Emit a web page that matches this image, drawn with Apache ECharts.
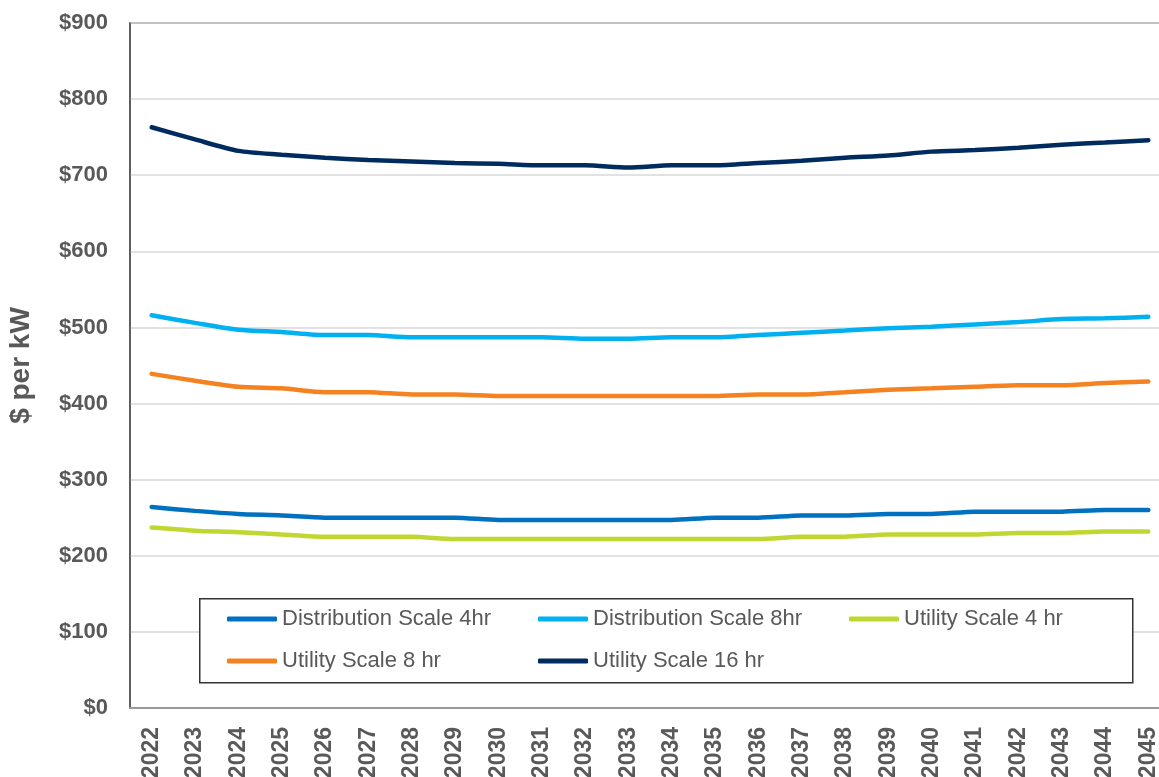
<!DOCTYPE html>
<html>
<head>
<meta charset="utf-8">
<script src="https://cdn.jsdelivr.net/npm/echarts@6/dist/echarts.min.js"></script>
<style>
    html, body { margin: 0; padding: 0; background: #fff; }
    #chart { width: 1159px; height: 777px; }
</style>
</head>
<body>
<div id="chart"></div>
<script>
    // years on the x axis
    var years = ['2022', '2023', '2024', '2025', '2026', '2027', '2028', '2029', '2030', '2031', '2032', '2033',
        '2034', '2035', '2036', '2037', '2038', '2039', '2040', '2041', '2042', '2043', '2044', '2045'];

    // $ per kW
    var dist4hr = [264, 259, 255, 253, 250, 250, 250, 250, 247, 247, 247, 247,
        247, 250, 250, 253, 253, 255, 255, 258, 258, 258, 260, 260];
    var dist8hr = [516, 506, 497, 494, 490, 490, 487, 487, 487, 487, 485, 485,
        487, 487, 490, 493, 496, 499, 501, 504, 507, 511, 512, 514];
    var util4hr = [237, 233, 231, 228, 225, 225, 225, 222, 222, 222, 222, 222,
        222, 222, 222, 225, 225, 228, 228, 228, 230, 230, 232, 232];
    var util8hr = [439, 430, 422, 420, 415, 415, 412, 412, 410, 410, 410, 410,
        410, 410, 412, 412, 415, 418, 420, 422, 424, 424, 427, 429];
    var util16hr = [763, 747, 732, 727, 723, 720, 718, 716, 715, 713, 713, 710,
        713, 713, 716, 719, 723, 726, 731, 733, 736, 740, 743, 746];

    var yTicks = [0, 100, 200, 300, 400, 500, 600, 700, 800, 900];

    var seriesNames = ['Distribution Scale 4hr', 'Distribution Scale 8hr', 'Utility Scale 4 hr',
        'Utility Scale 8 hr', 'Utility Scale 16 hr'];
    var seriesColors = ['#0070C0', '#00B0F0', '#BFD730', '#F58220', '#002B5F'];
    var seriesData = [dist4hr, dist8hr, util4hr, util8hr, util16hr];

    var grey = '#595959';
    var font = 'Liberation Sans, Arial, sans-serif';

    // legend laid out as two rows, like the excel one
    function legendRow(names, top) {
        return {
            data: names,
            left: 227,
            top: top,
            padding: 0,
            orient: 'horizontal',
            icon: 'roundRect',
            itemWidth: 50,
            itemHeight: 5,
            itemGap: 6,
            textStyle: {
                fontFamily: font,
                fontSize: 22,
                color: grey,
                width: 250,
                lineHeight: 24
            }
        };
    }

    var myChart = echarts.init(document.getElementById('chart'));

    var option = {
        animation: false,
        grid: {
            left: 130,
            top: 23,
            bottom: 69,
            right: -11,
            outerBoundsMode: 'none',
            show: true,
            borderColor: '#555',
            borderWidth: 1.5
        },
        graphic: [{
            type: 'rect',
            left: 199,
            top: 598,
            z: 3,
            shape: { width: 933, height: 84 },
            style: { fill: '#fff', stroke: '#333', lineWidth: 1.5 }
        }],
        legend: [
            legendRow(seriesNames.slice(0, 3), 607),
            legendRow(seriesNames.slice(3), 649)
        ],
        xAxis: {
            type: 'category',
            data: years,
            boundaryGap: true,
            axisLine: { lineStyle: { color: '#999', width: 2 } },
            axisTick: { show: false },
            axisLabel: {
                rotate: 90,
                margin: 19,
                interval: 0,
                fontFamily: font,
                fontWeight: 'bold',
                fontSize: 23,
                color: grey
            }
        },
        yAxis: {
            type: 'value',
            min: yTicks[0],
            max: yTicks[yTicks.length - 1],
            interval: 100,
            name: '$ per kW',
            nameLocation: 'middle',
            nameGap: 95,
            nameTextStyle: {
                fontFamily: font,
                fontWeight: 'bold',
                fontSize: 28,
                color: grey
            },
            axisLine: { show: true, lineStyle: { color: '#555', width: 1.5 } },
            axisTick: { show: false },
            splitLine: { lineStyle: { color: '#D9D9D9', width: 1.5 } },
            axisLabel: {
                margin: 22,
                fontFamily: font,
                fontWeight: 'bold',
                fontSize: 22,
                color: grey,
                formatter: function (v) { return '$' + v; }
            }
        },
        series: seriesNames.map(function (name, i) {
            return {
                name: name,
                type: 'line',
                data: seriesData[i],
                symbol: 'none',
                smooth: 0.25,
                color: seriesColors[i],
                z: 5,
                lineStyle: { width: 4.5, color: seriesColors[i], cap: 'round' }
            };
        })
    };
    myChart.setOption(option);
</script>
</body>
</html>
